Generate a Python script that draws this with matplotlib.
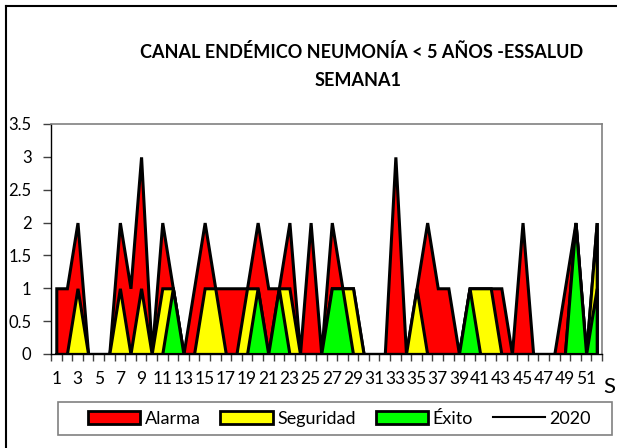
import numpy as np
import matplotlib
matplotlib.use("Agg")
import matplotlib.pyplot as plt
from matplotlib.patches import Patch, Rectangle
from matplotlib.lines import Line2D

plt.rcParams['font.family'] = ['Lato', 'DejaVu Sans']

weeks = list(range(1, 53))
alarma = [1, 1, 2, 0, 0, 0, 2, 1, 3, 0, 2, 1, 0, 1, 2, 1, 1, 1, 1, 2, 1, 1, 2, 0, 2, 0,
          2, 1, 1, 0, 0, 0, 3, 0, 1, 2, 1, 1, 0, 1, 1, 1, 1, 0, 2, 0, 0, 0, 1, 2, 0, 2]
seguridad = [0, 0, 1, 0, 0, 0, 1, 0, 1, 0, 1, 1, 0, 0, 1, 1, 0, 0, 1, 1, 0, 1, 1, 0, 0, 0,
             1, 1, 1, 0, 0, 0, 0, 0, 1, 0, 0, 0, 0, 1, 1, 1, 0, 0, 0, 0, 0, 0, 0, 2, 0, 2]
exito = [0, 0, 0, 0, 0, 0, 0, 0, 0, 0, 0, 1, 0, 0, 0, 0, 0, 0, 0, 1, 0, 1, 0, 0, 0, 0,
         1, 1, 0, 0, 0, 0, 0, 0, 0, 0, 0, 0, 0, 1, 0, 0, 0, 0, 0, 0, 0, 0, 0, 2, 0, 1]
y2020 = [0] * 52
series_names = ["Alarma", "Seguridad", "Éxito", "2020"]
colors = ["#FF0000", "#FFFF00", "#00FF00"]
title1 = "CANAL ENDÉMICO NEUMONÍA < 5 AÑOS -ESSALUD"
title2 = "SEMANA1"
xlabel = "SEMANA"

W, H = 617, 448
fig = plt.figure(figsize=(W / 100, H / 100), dpi=100)
ax = fig.add_axes([51 / W, 1 - 354 / H, (602 - 51) / W, (354 - 124) / H])

x = np.array(weeks)
for vals, c in zip([alarma, seguridad, exito], colors):
    ax.fill_between(x, 0, vals, facecolor=c, edgecolor='black', linewidth=2.2,
                    joinstyle='miter')
ax.plot(x, y2020, color='black', linewidth=1.5)

ax.set_xlim(0.5, 52.5)
ax.set_ylim(0, 3.5)
ax.set_yticks(np.arange(0, 3.51, 0.5))
ax.set_yticklabels(["%g" % v for v in np.arange(0, 3.51, 0.5)])
ax.tick_params(axis='y', direction='out', length=6, width=1, colors='#404040',
               labelcolor='black', labelsize=12, pad=8)
ax.set_xticks(np.arange(0.5, 53, 1))
ax.set_xticklabels([])
ax.tick_params(axis='x', which='major', direction='out', length=5, width=1, colors='#404040')
ax.set_xticks(weeks[::2], minor=True)
ax.set_xticklabels([str(w) for w in weeks[::2]], minor=True)
ax.tick_params(axis='x', which='minor', length=0, labelsize=12.5, pad=12, labelcolor='black')

for s in ['left', 'bottom']:
    ax.spines[s].set_color('black')
    ax.spines[s].set_linewidth(1)
for s in ['top', 'right']:
    ax.spines[s].set_color('#808080')
    ax.spines[s].set_linewidth(1.2)

fig.text(362 / W, 1 - 52.5 / H, title1, ha='center', va='center', fontsize=13, fontweight='bold')
fig.text(358 / W, 1 - 80 / H, title2, ha='center', va='center', fontsize=13, fontweight='bold')
fig.text(603 / W, 1 - 387 / H, xlabel, ha='left', va='center', fontsize=16)

# outer chart frame
fig.add_artist(Line2D([6 / W, 6 / W], [0, 1 - 6 / H], color='black', linewidth=1.5,
                      transform=fig.transFigure))
fig.add_artist(Line2D([6 / W, 1], [1 - 6 / H, 1 - 6 / H], color='black', linewidth=1.5,
                      transform=fig.transFigure))

# legend frame
fig.add_artist(Rectangle((58 / W, 1 - 435 / H), (612 - 58) / W, (435 - 402) / H,
                         transform=fig.transFigure, facecolor='white', edgecolor='#808080',
                         linewidth=1.2, zorder=1))

handles = [Patch(facecolor=c, edgecolor='black', linewidth=2) for c in colors]
handles.append(Line2D([0], [0], color='black', linewidth=1.5))
leg = fig.legend(handles, series_names, ncol=4, loc='center',
                 bbox_to_anchor=(339.5 / W, 1 - 418.5 / H), fontsize=13,
                 handlelength=2.9, handleheight=0.7, handletextpad=0.25,
                 columnspacing=1.1, frameon=False, borderpad=0.3)
leg.set_zorder(5)

fig.savefig("out.png", dpi=100)
